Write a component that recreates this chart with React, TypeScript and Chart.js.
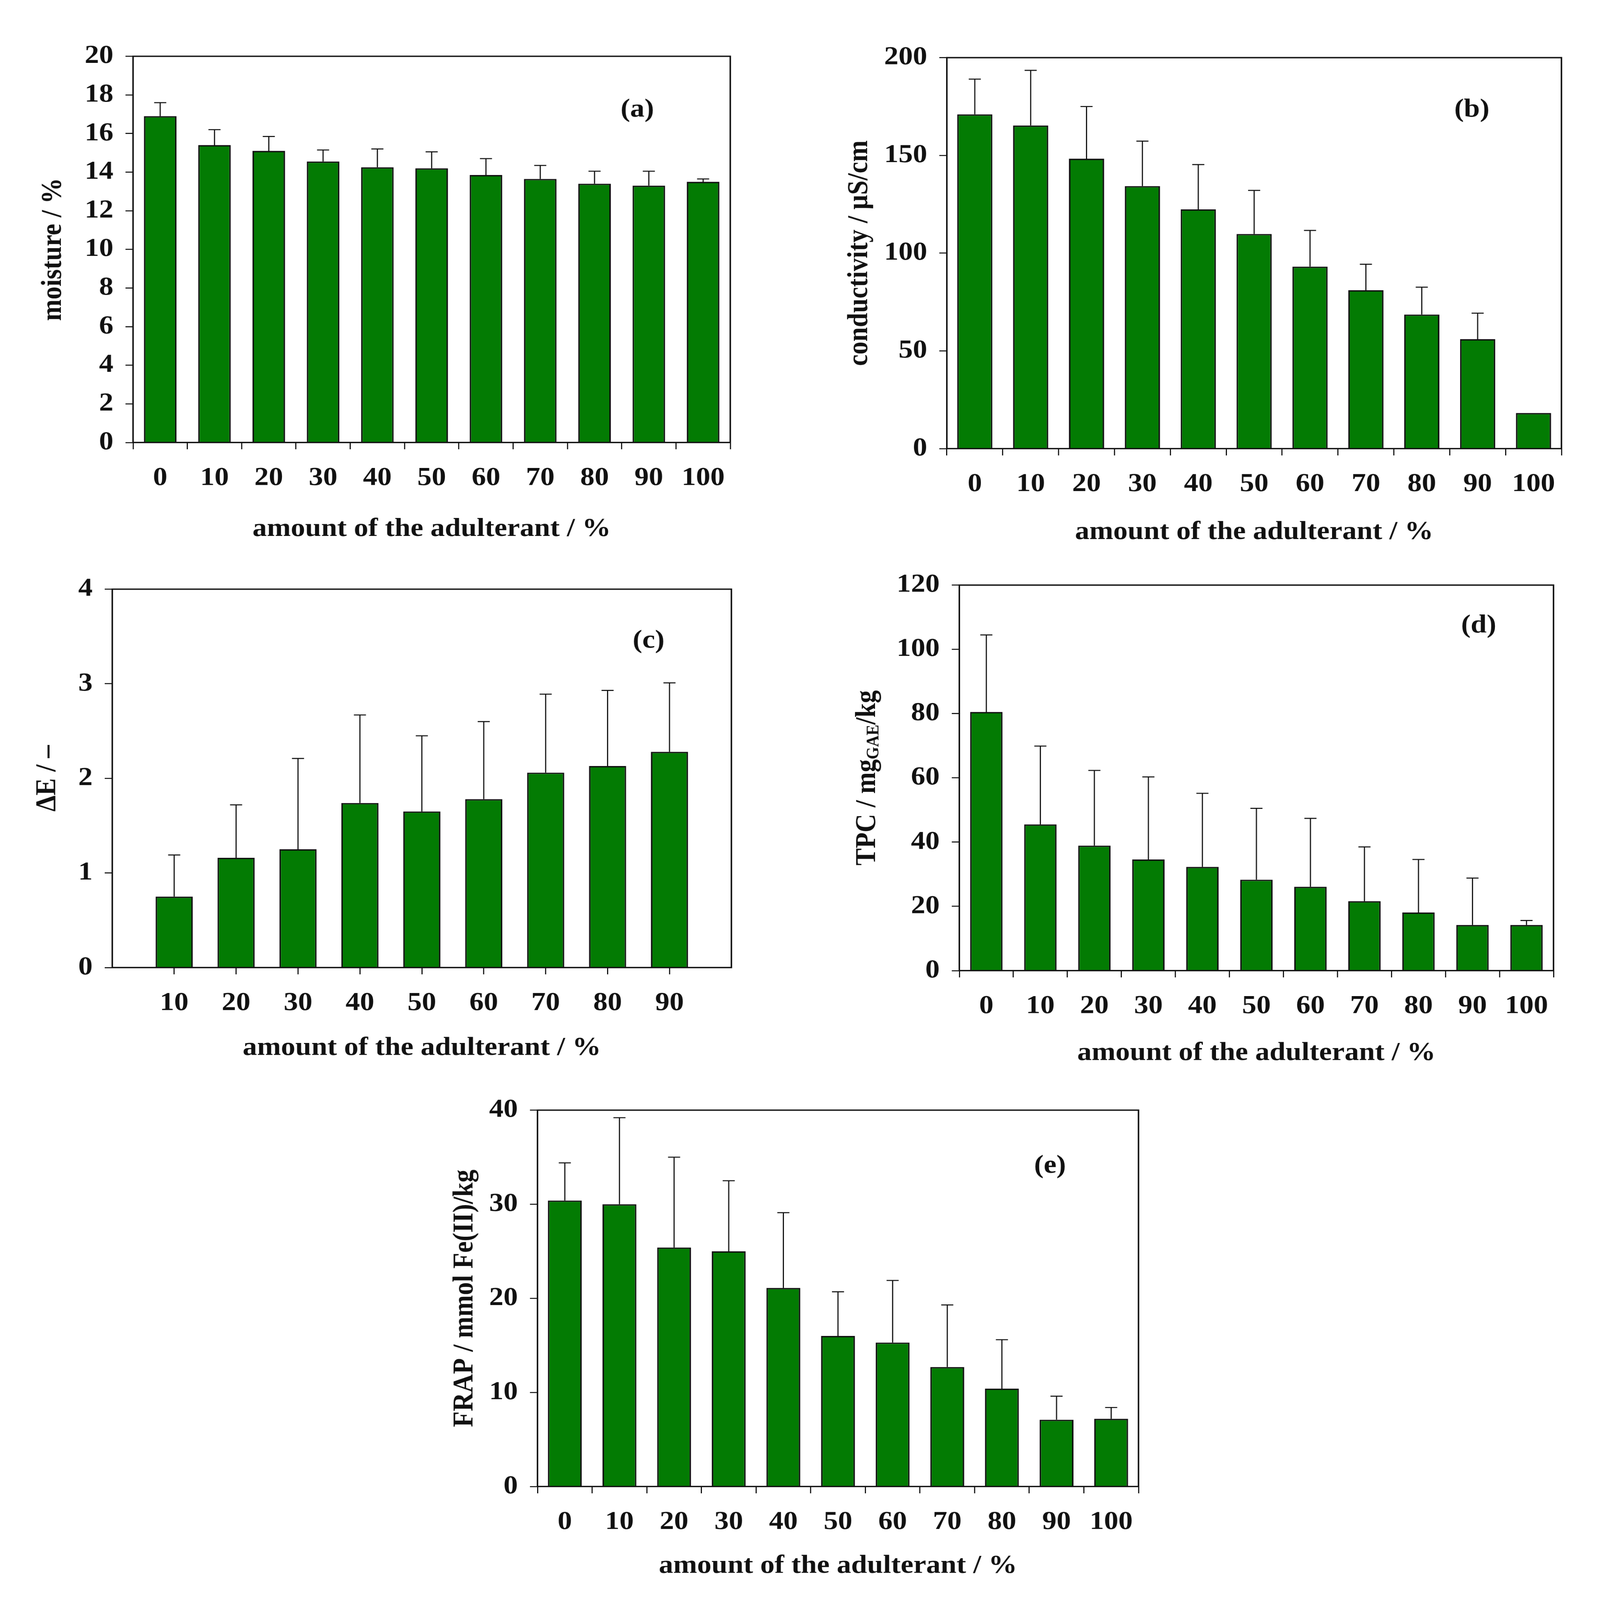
import { Chart, registerables } from "chart.js";
import { useEffect, useRef } from "react";

Chart.register(...registerables);

// x categories: amount of the adulterant / %
const adulterant = ["0", "10", "20", "30", "40", "50", "60", "70", "80", "90", "100"];
const adulterantDE = [10, 20, 30, 40, 50, 60, 70, 80, 90];

// (a) moisture / %
const moisture = [16.9, 15.4, 15.1, 14.55, 14.25, 14.2, 13.85, 13.65, 13.4, 13.3, 13.5];
const moistureErr = [0.7, 0.8, 0.75, 0.6, 0.95, 0.85, 0.85, 0.7, 0.65, 0.75, 0.15];

// (b) conductivity / µS/cm
const conductivity = [171, 165.3, 148.3, 134.3, 122.4, 109.8, 93.1, 81.0, 68.6, 56.0, 18.2];
const conductivityErr = [18, 28.2, 26.7, 23, 22.9, 22.3, 18.5, 13.3, 14, 13.3, 0];

// (c) ΔE
const deltaE = [0.75, 1.16, 1.25, 1.74, 1.65, 1.78, 2.06, 2.13, 2.28];
const deltaEErr = [0.44, 0.56, 0.96, 0.93, 0.8, 0.82, 0.83, 0.8, 0.73];

// (d) TPC / mgGAE/kg
const tpc = [80.5, 45.5, 38.9, 34.6, 32.3, 28.3, 26.1, 21.6, 18.1, 14.2, 14.2];
const tpcErr = [24, 24.4, 23.4, 25.7, 22.9, 22.2, 21.3, 16.9, 16.5, 14.6, 1.4];

// (e) FRAP / mmol Fe(II)/kg
const frap = [30.4, 30.0, 25.4, 25.0, 21.1, 16.0, 15.3, 12.7, 10.4, 7.1, 7.2];
const frapErr = [4.0, 9.2, 9.6, 7.5, 8.0, 4.7, 6.6, 6.6, 5.2, 2.5, 1.2];

const xTitle = "amount of the adulterant / %";

const FONT = "'Liberation Serif', 'DejaVu Serif', serif";
const FONT_SIZE = 76;
const INK = "#111";
const GREEN = "#037b03";

// the figure is laid out at 4233x4708 and scaled down if the viewport is smaller
const REF_W = 4233;
const REF_H = 4708;

const YW = 300; // y axis box width
const XH = 330; // x axis box height
const PT = 60;
const PR = 60;

type Seg = { text: string; sub?: boolean };

type Spec = {
  tag: string;
  box: { left: number; top: number; right: number; bottom: number };
  labels: (string | number)[];
  values: number[];
  errors: number[];
  linearX?: boolean;
  yMax: number;
  yStep: number;
  yTitle: Seg[];
  yTitleDx: number;
  tagDx: number;
  tagDy: number;
  xTitleOff: number;
  barPct: number;
};

const specs: Spec[] = [
  {
    tag: "(a)",
    box: { left: 352, top: 148, right: 1932, bottom: 1302 },
    labels: adulterant,
    values: moisture,
    errors: moistureErr,
    yMax: 20,
    yStep: 2,
    yTitle: [{ text: "moisture / %" }],
    yTitleDx: 211,
    tagDx: 246,
    tagDy: 158,
    xTitleOff: 255,
    barPct: 0.6,
  },
  {
    tag: "(b)",
    box: { left: 2505, top: 152, right: 4131, bottom: 1320 },
    labels: adulterant,
    values: conductivity,
    errors: conductivityErr,
    yMax: 200,
    yStep: 50,
    yTitle: [{ text: "conductivity / μS/cm" }],
    yTitleDx: 231,
    tagDx: 237,
    tagDy: 154,
    xTitleOff: 246,
    barPct: 0.63,
  },
  {
    tag: "(c)",
    box: { left: 297, top: 1716, right: 1935, bottom: 2847 },
    labels: adulterantDE,
    values: deltaE,
    errors: deltaEErr,
    linearX: true,
    yMax: 4,
    yStep: 1,
    yTitle: [{ text: "ΔE / –" }],
    yTitleDx: 171,
    tagDx: 219,
    tagDy: 153,
    xTitleOff: 237,
    barPct: 0.6,
  },
  {
    tag: "(d)",
    box: { left: 2538, top: 1704, right: 4110, bottom: 2856 },
    labels: adulterant,
    values: tpc,
    errors: tpcErr,
    yMax: 120,
    yStep: 20,
    yTitle: [{ text: "TPC / mg" }, { text: "GAE", sub: true }, { text: "/kg" }],
    yTitleDx: 243,
    tagDx: 198,
    tagDy: 120,
    xTitleOff: 243,
    barPct: 0.6,
  },
  {
    tag: "(e)",
    box: { left: 1422, top: 3249, right: 3012, bottom: 4374 },
    labels: adulterant,
    values: frap,
    errors: frapErr,
    yMax: 40,
    yStep: 10,
    yTitle: [{ text: "FRAP / mmol Fe(II)/kg" }],
    yTitleDx: 192,
    tagDx: 234,
    tagDy: 165,
    xTitleOff: 234,
    barPct: 0.62,
  },
];

const decorPlugin = {
  id: "decor",
  afterDatasetsDraw(chart: any, _args: any, opts: any) {
    const spec: Spec = opts.spec;
    const { ctx, chartArea } = chart;
    const yScale = chart.scales.y;
    const meta = chart.getDatasetMeta(0);
    ctx.save();
    // error bars (upper only)
    ctx.strokeStyle = INK;
    ctx.lineWidth = 3;
    meta.data.forEach((bar: any, i: number) => {
      const err = spec.errors[i];
      if (!err) return;
      const yTop = yScale.getPixelForValue(spec.values[i] + err);
      ctx.beginPath();
      ctx.moveTo(bar.x, bar.y);
      ctx.lineTo(bar.x, yTop);
      ctx.moveTo(bar.x - 16, yTop);
      ctx.lineTo(bar.x + 16, yTop);
      ctx.stroke();
    });
    // plot frame
    ctx.lineWidth = 4;
    ctx.strokeRect(chartArea.left, chartArea.top, chartArea.right - chartArea.left, chartArea.bottom - chartArea.top);
    // panel tag
    ctx.fillStyle = INK;
    ctx.font = `bold ${FONT_SIZE}px ${FONT}`;
    ctx.textAlign = "center";
    ctx.textBaseline = "middle";
    ctx.fillText(spec.tag, chartArea.right - spec.tagDx, chartArea.top + spec.tagDy);
    // y title with optional subscript
    const main = `bold ${FONT_SIZE}px ${FONT}`;
    const small = `bold ${Math.round(FONT_SIZE * 0.62)}px ${FONT}`;
    let total = 0;
    spec.yTitle.forEach((s) => {
      ctx.font = s.sub ? small : main;
      total += ctx.measureText(s.text).width;
    });
    ctx.translate(chartArea.left - spec.yTitleDx, (chartArea.top + chartArea.bottom) / 2);
    ctx.rotate(-Math.PI / 2);
    ctx.textAlign = "left";
    ctx.textBaseline = "middle";
    let x = -total / 2;
    spec.yTitle.forEach((s) => {
      ctx.font = s.sub ? small : main;
      ctx.fillText(s.text, x, s.sub ? FONT_SIZE * 0.22 : 0);
      x += ctx.measureText(s.text).width;
    });
    ctx.restore();
  },
};

const Panel = ({ spec }: { spec: Spec }) => {
  const canvasRef = useRef<HTMLCanvasElement | null>(null);
  const chartRef = useRef<Chart | null>(null);

  useEffect(() => {
    if (!canvasRef.current) return;
    Chart.defaults.font.family = FONT;
    Chart.defaults.font.size = FONT_SIZE;
    Chart.defaults.font.weight = "bold";
    Chart.defaults.color = INK;

    const data = spec.linearX
      ? spec.labels.map((x, i) => ({ x: x as number, y: spec.values[i] }))
      : spec.values;

    const hideEdge = (v: number) => spec.linearX && (v === 0 || v === 100);

    const xScale: any = spec.linearX
      ? {
          type: "linear",
          min: 0,
          max: 100,
          offset: false,
          ticks: {
            stepSize: 10,
            padding: 40,
            callback: (v: number) => (hideEdge(v) ? "" : String(v)),
          },
          grid: {
            offset: false,
            drawOnChartArea: false,
            drawTicks: true,
            tickLength: 20,
            tickWidth: 3,
            tickColor: (c: any) => (hideEdge(c.tick?.value) ? "rgba(0,0,0,0)" : INK),
          },
        }
      : {
          type: "category",
          ticks: { padding: 40 },
          grid: { drawOnChartArea: false, drawTicks: true, tickLength: 20, tickWidth: 3, tickColor: INK },
        };

    chartRef.current = new Chart(canvasRef.current, {
      type: "bar",
      data: {
        labels: spec.linearX ? undefined : (spec.labels as string[]),
        datasets: [
          {
            data: data as any,
            backgroundColor: GREEN,
            borderColor: INK,
            borderWidth: 4,
            barPercentage: spec.barPct,
            categoryPercentage: 1,
          },
        ],
      },
      options: {
        animation: false,
        responsive: true,
        maintainAspectRatio: false,
        devicePixelRatio: 1,
        layout: { padding: { top: PT, right: PR, left: 0, bottom: 0 } },
        plugins: {
          legend: { display: false },
          tooltip: { enabled: false },
          decor: { spec },
        } as any,
        scales: {
          x: {
            ...xScale,
            border: { display: true, width: 4, color: INK },
            title: {
              display: true,
              text: xTitle,
              padding: { top: 0, bottom: XH - spec.xTitleOff - 46 },
            },
            afterFit: (s: any) => {
              s.height = XH;
            },
          },
          y: {
            min: 0,
            max: spec.yMax,
            ticks: { stepSize: spec.yStep, padding: 32 },
            grid: { drawOnChartArea: false, drawTicks: true, tickLength: 20, tickWidth: 3, tickColor: INK },
            border: { display: true, width: 4, color: INK },
            afterFit: (s: any) => {
              s.width = YW;
            },
          },
        },
      },
      plugins: [decorPlugin],
    });

    return () => {
      if (chartRef.current) {
        chartRef.current.destroy();
        chartRef.current = null;
      }
    };
  }, [spec]);

  const { left, top, right, bottom } = spec.box;
  return (
    <div
      style={{
        position: "absolute",
        left: left - YW,
        top: top - PT,
        width: right - left + YW + PR,
        height: bottom - top + PT + XH,
      }}
    >
      <canvas ref={canvasRef} />
    </div>
  );
};

export default function App() {
  const sx = Math.min(1, window.innerWidth / REF_W);
  const sy = Math.min(1, window.innerHeight / REF_H);
  return (
    <div
      style={{
        position: "absolute",
        left: 0,
        top: 0,
        width: REF_W,
        height: REF_H,
        background: "#fff",
        transform: `scale(${sx}, ${sy})`,
        transformOrigin: "0 0",
      }}
    >
      {specs.map((s) => (
        <Panel key={s.tag} spec={s} />
      ))}
    </div>
  );
}
